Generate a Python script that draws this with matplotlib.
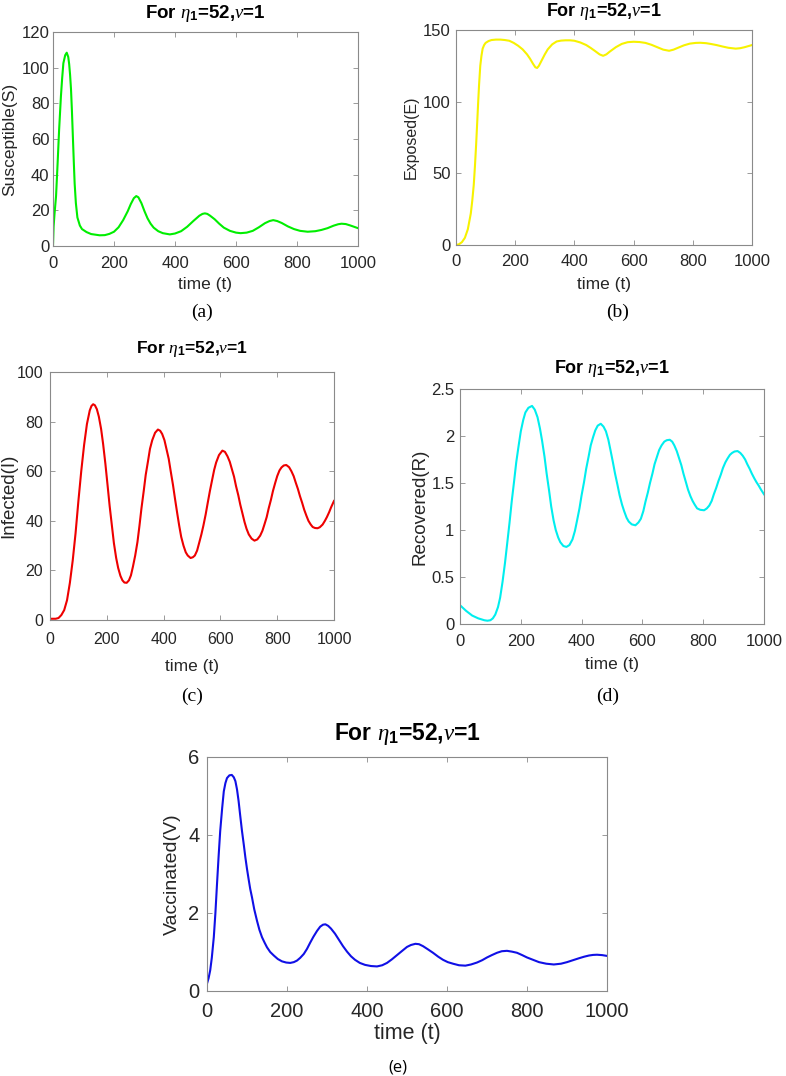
import matplotlib
matplotlib.use("Agg")
import matplotlib.pyplot as plt

plt.rcParams['font.family'] = ['Liberation Sans', 'DejaVu Sans']
plt.rcParams['mathtext.fontset'] = 'custom'
plt.rcParams['mathtext.rm'] = 'Liberation Sans:bold'
plt.rcParams['mathtext.bf'] = 'Liberation Sans:bold'
plt.rcParams['mathtext.it'] = 'Liberation Serif:italic'

# ---------------- data ----------------
t_S = [0, 2, 5, 10, 15, 20, 26, 30, 34, 40, 45, 50, 53, 56, 59, 62, 65, 68, 71, 75, 80, 88, 95,
       110, 125, 153, 170, 185, 200, 215, 230, 245, 255, 265, 273, 280, 290, 300, 310,
       320, 330, 345, 360, 383, 400, 420, 440, 460, 480, 490, 498, 506, 515, 530, 545, 560, 580,
       600, 615, 635, 655, 675, 695, 710, 722, 735, 750, 770, 790, 810, 835, 860, 880, 900, 920,
       935, 946, 960, 975, 990, 1000]
S = [0, 11, 18, 28, 46, 65, 84, 94, 102.5, 107, 108.4, 106, 102, 96, 88, 76, 62, 48, 35, 24, 16, 11.5, 9.5,
     7.8, 6.7, 6, 6.1, 6.8, 8, 10.5, 14.5, 19.5, 23.5, 26.8, 28, 27.3, 24, 19.5, 15.5,
     12.5, 10.3, 8.3, 7.2, 6.5, 7, 8.3, 10.8, 14, 17, 18, 18.3, 18, 17, 15, 12.5, 10.3, 8.5,
     7.5, 7.2, 7.5, 8.5, 10.5, 12.8, 14, 14.5, 14, 12.9, 11, 9.5, 8.5, 8, 8.3, 9, 10, 11.4,
     12.2, 12.5, 12.3, 11.5, 10.6, 10]

t_E = [0, 10, 20, 30, 40, 50, 55, 60, 64, 68, 72, 75, 78, 82, 86, 90, 95, 100, 110, 120, 135, 150,
       165, 180, 195, 210, 225, 240, 250, 260, 268, 274, 280, 290, 300, 310, 325, 340, 355, 370,
       385, 400, 420, 440, 455, 470, 485, 497, 508, 520, 540, 560, 580, 600, 620, 640, 660, 680,
       700, 720, 735, 750, 770, 790, 810, 825, 845, 860, 880, 900, 920, 945, 960, 975, 990, 1000]
E = [0, 0.5, 2, 5, 11, 22, 31, 42, 55, 70, 87, 100, 112, 125, 132, 137, 139.5, 141, 142.3, 143, 143.3, 143.3,
     143, 142.5, 141, 139, 136.5, 133, 130, 126.5, 124, 123.5, 125, 129, 133, 136.5, 140, 142, 142.6, 142.8,
     142.8, 142.5, 141.3, 139.5, 137.5, 135.3, 133, 132, 133, 135, 138, 140.3, 141.5, 141.8, 141.6, 141, 139.7, 138,
     136.3, 135.5, 136.3, 137.6, 139.3, 140.5, 141, 141.1, 140.8, 140.3, 139.5, 138.5, 137.6, 137, 137.3, 138, 138.9, 139.5]

t_I = [0, 20, 30, 40, 50, 60, 70, 80, 90, 100, 110, 120, 130, 140, 146, 152, 158, 165, 172, 180,
       187, 195, 203, 210, 218, 225, 233, 240, 248, 255, 262, 270, 278, 285, 292, 300, 308, 315,
       322, 330, 337, 345, 352, 360, 370, 380, 388, 395, 403, 410, 418, 425, 433, 440, 448, 455,
       462, 470, 478, 485, 495, 503, 510, 518, 525, 533, 540, 548, 555, 563, 570, 578, 585, 595,
       607, 616, 625, 633, 640, 648, 655, 663, 670, 678, 685, 692, 700, 710, 720, 730, 740, 748,
       755, 763, 770, 778, 785, 793, 800, 808, 815, 823, 832, 842, 850, 858, 865, 873, 880, 888,
       895, 903, 910, 918, 925, 933, 942, 950, 960, 968, 975, 983, 990, 1000]
I = [0.5, 0.5, 0.8, 2, 4, 8, 15, 24, 35, 48, 60, 70.5, 79, 84.5, 86.3, 87, 86.6, 85, 82, 77,
     71, 63, 54, 46, 38, 31, 25, 21, 17.8, 16, 15.1, 15, 16, 18, 21.5, 26, 31.5, 38,
     45, 52, 58.5, 64, 69, 72.5, 75.5, 76.8, 76.3, 75, 72.5, 69, 65, 60, 54.5, 49, 43, 38,
     33.5, 30, 27.3, 26, 25, 25.3, 26, 28, 31, 34.5, 38, 42.5, 47, 52, 56, 60.5, 63.5, 66.5,
     68.3, 67.8, 66, 63.8, 61, 57.8, 54, 50.3, 46.5, 42.8, 39.5, 36.8, 34.5, 32.8, 32, 32.5, 34, 36,
     38.5, 41.5, 45, 48.5, 52, 55.3, 58, 60.3, 61.5, 62.3, 62.5, 61.6, 60, 58, 55.5, 52.8, 50, 47.2,
     44.5, 42, 40, 38.5, 37.5, 37.1, 37, 37.4, 38.5, 40, 41.5, 43.5, 45.5, 48]

t_R = [0, 10, 20, 30, 40, 50, 60, 70, 80, 90, 100, 108, 116, 125, 132, 140, 148, 155, 163, 170,
       178, 185, 193, 200, 208, 215, 225, 237, 246, 255, 263, 270, 278, 285, 293, 300, 308, 315,
       323, 330, 340, 350, 360, 370, 378, 385, 393, 400, 408, 415, 423, 430, 438, 445, 453, 463,
       472, 480, 488, 495, 503, 510, 518, 525, 533, 540, 548, 555, 565, 577, 587, 595, 603, 610,
       618, 625, 633, 640, 648, 655, 663, 672, 680, 690, 698, 705, 713, 720, 728, 735, 743, 750,
       758, 765, 772, 780, 790, 803, 812, 820, 828, 835, 843, 850, 858, 865, 873, 880, 888, 895,
       903, 913, 922, 930, 938, 945, 953, 960, 968, 975, 983, 990, 1000]
R = [0.2, 0.17, 0.14, 0.115, 0.09, 0.075, 0.06, 0.05, 0.04, 0.035, 0.04, 0.06, 0.1, 0.18, 0.28, 0.45, 0.65, 0.85, 1.08, 1.3,
     1.52, 1.72, 1.9, 2.05, 2.17, 2.25, 2.3, 2.32, 2.28, 2.2, 2.08, 1.95, 1.78, 1.6, 1.42, 1.25, 1.1, 1.0,
     0.92, 0.87, 0.83, 0.82, 0.84, 0.9, 0.99, 1.1, 1.23, 1.37, 1.51, 1.65, 1.78, 1.9, 1.99, 2.06, 2.11, 2.13,
     2.1, 2.05, 1.96, 1.85, 1.72, 1.6, 1.48, 1.37, 1.27, 1.2, 1.13, 1.09, 1.06, 1.05, 1.08, 1.12, 1.2, 1.3,
     1.4, 1.5, 1.6, 1.7, 1.78, 1.85, 1.9, 1.94, 1.955, 1.96, 1.94, 1.9, 1.84, 1.77, 1.69, 1.6, 1.51, 1.43,
     1.36, 1.31, 1.27, 1.23, 1.215, 1.21, 1.23, 1.26, 1.31, 1.38, 1.45, 1.52, 1.59, 1.66, 1.72, 1.76, 1.8, 1.82,
     1.835, 1.84, 1.82, 1.79, 1.75, 1.7, 1.65, 1.6, 1.55, 1.51, 1.47, 1.43, 1.38]

t_V = [0, 4, 8, 12, 17, 21, 25, 29, 33, 38, 42, 46, 50, 56, 62, 67, 71, 75, 79, 83, 87.5, 92, 96,
       100, 104, 108, 112.5, 118, 125, 131, 137.5, 144, 150, 158, 167, 177, 187.5, 198, 208, 217,
       225, 233, 242, 250, 258, 266, 275, 283, 290, 296, 303, 310, 320, 330, 340, 350, 360, 370,
       382, 395, 410, 425, 438, 450, 462, 475, 488, 500, 510, 521, 530, 540, 552, 565, 578, 590,
       602, 615, 630, 646, 660, 675, 688, 700, 712, 725, 737, 750, 762, 775, 788, 800, 815, 830,
       848, 867, 885, 900, 915, 930, 943, 955, 965, 975, 988, 1000]
V = [0.19, 0.33, 0.53, 0.85, 1.38, 2.0, 2.74, 3.45, 4.1, 4.7, 5.12, 5.33, 5.46, 5.53, 5.54, 5.48, 5.38, 5.17, 4.87, 4.5, 4.1, 3.75, 3.42,
     3.13, 2.87, 2.62, 2.4, 2.1, 1.8, 1.57, 1.38, 1.24, 1.12, 1.0, 0.91, 0.82, 0.76, 0.73, 0.72, 0.74,
     0.78, 0.85, 0.95, 1.08, 1.24, 1.39, 1.54, 1.65, 1.70, 1.71, 1.67, 1.6, 1.47, 1.31, 1.15, 1.01, 0.89, 0.8,
     0.72, 0.67, 0.64, 0.63, 0.66, 0.72, 0.81, 0.92, 1.03, 1.13, 1.18, 1.21, 1.2, 1.15, 1.07, 0.98, 0.88, 0.8,
     0.74, 0.7, 0.66, 0.65, 0.68, 0.73, 0.79, 0.86, 0.92, 0.98, 1.02, 1.03, 1.01, 0.98, 0.92, 0.86, 0.8, 0.74,
     0.7, 0.68, 0.7, 0.74, 0.79, 0.84, 0.88, 0.91, 0.925, 0.93, 0.92, 0.9]

x_ticks = [0, 200, 400, 600, 800, 1000]
title_text = r'For $\eta_\mathbf{1}$=52,$\nu$=1'

W, H = 786, 1076
fig = plt.figure(figsize=(W / 100, H / 100), dpi=100)

# layout in pixels: axes box (l, t, r, b), title baseline y, xlabel centre y, ylabel centre x
panels = [
    dict(px=(53, 32, 358, 246), t=t_S, y=S, color='#00ee00', ylabel='Susceptible(S)',
         ylim=(0, 120), yticks=[0, 20, 40, 60, 80, 100, 120], fs=12, xlfs=12.5, ylfs=12.5, tfs=13.5,
         tb=18, xly=285, ylx=10, xpad=7, ypad=2.5,
         cap='(a)', cx=202, cy=312),
    dict(px=(456, 30, 752, 245), t=t_E, y=E, color='#f7f200', ylabel='Exposed(E)',
         ylim=(0, 150), yticks=[0, 50, 100, 150], fs=12, xlfs=12.5, ylfs=11.5, tfs=13,
         tb=16, xly=284, ylx=411, xpad=6.5, ypad=4,
         cap='(b)', cx=618, cy=312),
    dict(px=(50, 372, 334, 620), t=t_I, y=I, color='#ee0000', ylabel='Infected(I)',
         ylim=(0, 100), yticks=[0, 20, 40, 60, 80, 100], fs=11.5, xlfs=12.5, ylfs=13.5, tfs=12.5,
         tb=353, xly=666, ylx=9, xpad=8.5, ypad=5,
         cap='(c)', cx=192, cy=696),
    dict(px=(460, 389, 764, 624), t=t_R, y=R, color='#00eeee', ylabel='Recovered(R)',
         ylim=(0, 2.5), yticks=[0, 0.5, 1, 1.5, 2, 2.5], fs=12, xlfs=12.5, ylfs=13.5, tfs=13,
         tb=373, xly=665, ylx=420, xpad=7.5, ypad=4,
         cap='(d)', cx=608, cy=696),
    dict(px=(207, 757, 607, 991), t=t_V, y=V, color='#1010e6', ylabel='Vaccinated(V)',
         ylim=(0, 6), yticks=[0, 2, 4, 6], fs=14.5, xlfs=15.5, ylfs=14, tfs=16.5,
         tb=740, xly=1033, ylx=172, xpad=8, ypad=5.5,
         cap='(e)', cx=398, cy=1067),
]

for p in panels:
    l, tp, r, b = p['px']
    ax = fig.add_axes([l / W, 1 - b / H, (r - l) / W, (b - tp) / H])
    ax.plot(p['t'], p['y'], color=p['color'], lw=1.5, solid_joinstyle='round')
    ax.set_xlim(0, 1000)
    ax.set_ylim(*p['ylim'])
    ax.set_xticks(x_ticks)
    ax.set_yticks(p['yticks'])
    ax.set_yticklabels([('%g' % v) for v in p['yticks']])
    ax.tick_params(direction='in', top=True, right=True, length=3.5, width=0.6,
                   colors='#8a8a8a', labelcolor='#262626', labelsize=p['fs'])
    ax.tick_params(axis='x', pad=p['xpad'])
    ax.tick_params(axis='y', pad=p['ypad'])
    for s in ax.spines.values():
        s.set_color('#8a8a8a')
        s.set_linewidth(0.8)
    ax.set_xlabel('time (t)', fontsize=p['xlfs'], color='#262626', va='center')
    ax.xaxis.set_label_coords(0.5, (b - p['xly']) / (b - tp))
    ax.set_ylabel(p['ylabel'], fontsize=p['ylfs'], color='#262626', va='center')
    ax.yaxis.set_label_coords((p['ylx'] - l) / (r - l), 0.5)
    ax.text(0.5, (b - p['tb']) / (b - tp), title_text, transform=ax.transAxes,
            ha='center', va='baseline', fontsize=p['tfs'], fontweight='bold')
    if p['cap'] == '(e)':
        fig.text(p['cx'] / W, 1 - p['cy'] / H, p['cap'], ha='center', va='center',
                 fontsize=12, family=['Open Sans', 'DejaVu Sans'])
    else:
        fig.text(p['cx'] / W, 1 - p['cy'] / H, p['cap'], ha='center', va='center',
                 fontsize=14, family=['Liberation Serif', 'DejaVu Serif'])

fig.savefig('out.png', dpi=100)
